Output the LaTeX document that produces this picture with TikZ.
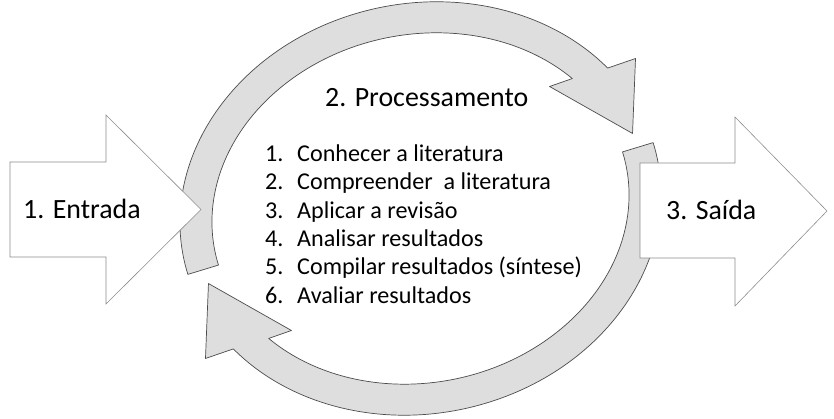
\documentclass[tikz,border=0pt]{standalone}
\usepackage{fontspec}
\setmainfont{Carlito}
\usetikzlibrary{positioning}

\tikzset{
  ring/.style={fill=black!13, draw=black!70, line width=0.6pt, line join=round},
  blockarrow/.style={fill=white, draw=black!45, line width=0.5pt, line join=miter},
  bigtext/.style={inner sep=0pt, font=\fontsize{23.8}{28}\selectfont},
  itemlist/.style={inner sep=0pt, font=\fontsize{20.6}{24.15}\selectfont},
}

\begin{document}
\begin{tikzpicture}
  \useasboundingbox (0,0) rectangle (25.02,12.57);

  % the two arcs of the cycle
  \foreach \r in {12,192}{
    \begin{scope}[shift={(12.615,6.315)}, rotate=\r]
      \path[ring] (184.5:7.26 and 6.15)
        arc[start angle=184.5, end angle=28.7, x radius=7.26, y radius=6.15]
        -- (7.245,3.06) -- (6.69,0.879) -- (4.548,2.775)
        -- (33.3:6.30 and 5.22)
        arc[start angle=33.3, end angle=184.4, x radius=6.30, y radius=5.22] -- cycle;
    \end{scope}
  }

  % input and output arrows
  \draw[blockarrow] (0.30,4.86) -- (3.18,4.86) -- (3.18,3.45) -- (6.03,6.285)
    -- (3.18,9.12) -- (3.18,7.71) -- (0.30,7.71) -- cycle;
  \draw[blockarrow] (19.20,4.83) -- (22.05,4.83) -- (22.05,3.39) -- (24.81,6.24)
    -- (22.05,9.06) -- (22.05,7.68) -- (19.20,7.68) -- cycle;

  \node[bigtext, anchor=base west] (entrada) at (0.69,6.02) {1. Entrada};
  \node[bigtext, anchor=base west] (saida) at (19.98,5.97) {3. Saída};
  \node[bigtext, anchor=base west] (proc) at (9.75,9.37) {2. Processamento};

  \node[itemlist, anchor=base west] (steps) at (7.95,7.72) {%
    \begin{tabular}[t]{@{}p{0.96cm}@{}l@{}}
      1. & Conhecer a literatura\\
      2. & Compreender~ a literatura\\
      3. & Aplicar a revisão\\
      4. & Analisar resultados\\
      5. & Compilar resultados (síntese)\\
      6. & Avaliar resultados
    \end{tabular}};
\end{tikzpicture}
\end{document}
